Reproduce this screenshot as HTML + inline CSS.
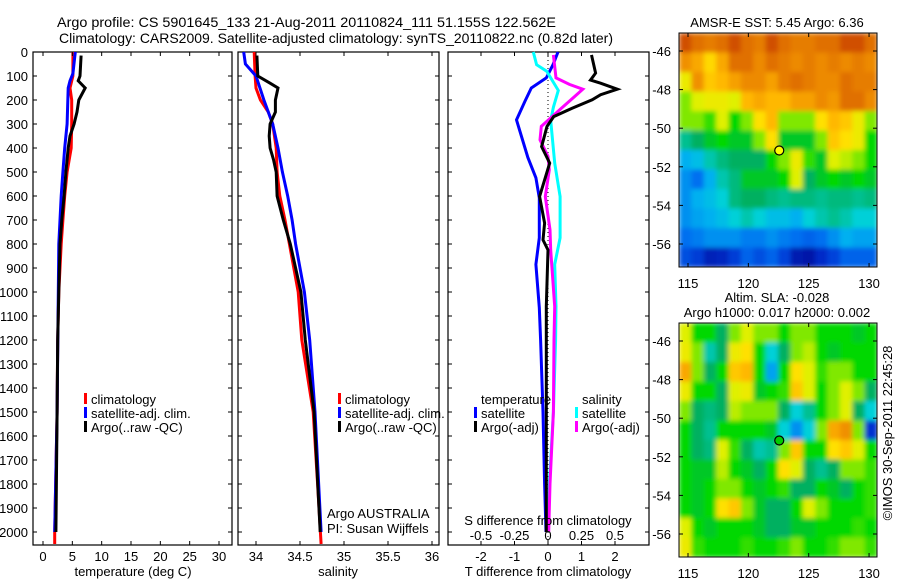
<!DOCTYPE html>
<html><head><meta charset="utf-8"><style>
body{margin:0;background:#fff;}
svg{display:block;font-family:"Liberation Sans",sans-serif;font-size:13px;}
</style></head><body>
<svg id="c" width="900" height="580" viewBox="0 0 900 580">
<defs>
<filter id="smooth" x="0" y="0" width="1" height="1"><feGaussianBlur stdDeviation="2.5" edgeMode="duplicate"/></filter>
<clipPath id="clipTop"><rect x="679" y="33" width="198" height="234"/></clipPath>
<clipPath id="clipBot"><rect x="679" y="323" width="198" height="234"/></clipPath>
</defs>
<text x="57" y="27" textLength="499" lengthAdjust="spacingAndGlyphs" style="font-size:14px">Argo profile: CS 5901645_133 21-Aug-2011 20110824_111 51.155S 122.562E</text>
<text x="59" y="43" textLength="554" lengthAdjust="spacingAndGlyphs" style="font-size:14px">Climatology: CARS2009. Satellite-adjusted climatology: synTS_20110822.nc (0.82d later)</text>
</svg>
<script>
// ---------- data ----------
const depthTicks=[0,100,200,300,400,500,600,700,800,900,1000,1100,1200,1300,1400,1500,1600,1700,1800,1900,2000];
const tempTicks=[0,5,10,15,20,25,30];
const salTicks=[34,34.5,35,35.5,36];
const salTickLabels=["34","34.5","35","35.5","36"];
const tdiffTicks=[-2,-1,0,1,2];
const sdiffTicks=[-0.5,-0.25,0,0.25,0.5];
const sdiffTickLabels=["-0.5","-0.25","0","0.25","0.5"];

const tempClimDepth=[0,100,150,200,300,400,500,600,700,800,1000,1200,1500,2000,2050];
const tempClimVal=[5.1,5.1,4.6,4.9,4.9,4.8,4.1,3.7,3.4,3.1,2.7,2.5,2.4,2.0,2.0];
const tempSatDepth=[0,90,120,150,300,400,500,600,800,1000,1500,2000];
const tempSatVal=[5.5,5.1,4.6,4.3,4.1,3.7,3.4,3.1,2.7,2.6,2.4,2.0];
const tempArgoDepth=[15,100,120,150,200,250,300,350,400,500,600,700,800,1000,1200,1500,2000];
const tempArgoVal=[6.5,6.3,6.0,7.2,6.1,5.8,5.3,4.6,4.3,3.9,3.6,3.2,2.9,2.7,2.5,2.4,2.2];

const salClimDepth=[0,100,150,200,250,300,400,500,600,700,800,1000,1200,1500,1800,2050];
const salClimVal=[33.98,33.99,34.0,34.05,34.14,34.19,34.23,34.24,34.27,34.33,34.38,34.48,34.52,34.65,34.7,34.74];
const salSatDepth=[0,50,100,200,300,400,500,600,700,800,1000,1200,1500,2000];
const salSatVal=[33.86,33.88,34.0,34.09,34.19,34.25,34.3,34.36,34.41,34.45,34.55,34.61,34.67,34.74];
const salArgoDepth=[15,100,130,150,200,250,300,350,400,450,500,600,700,800,1000,1200,1500,2000];
const salArgoVal=[34.01,34.02,34.16,34.25,34.22,34.22,34.16,34.15,34.16,34.2,34.23,34.24,34.31,34.39,34.51,34.56,34.66,34.73];

const tdSatDepth=[0,53,108,150,206,283,330,440,524,608,774,885,1065,1200,1500,1800,2000];
const tdSatVal=[0.3,0.15,-0.05,-0.5,-0.69,-0.94,-0.84,-0.6,-0.36,-0.26,-0.26,-0.36,-0.26,-0.22,-0.15,-0.1,-0.06];
const tdArgoDepth=[12,88,117,130,155,178,199,234,269,310,394,463,533,602,713,783,825,1060,1500,2000];
const tdArgoVal=[1.3,1.42,1.27,1.57,2.07,1.57,1.32,0.72,0.17,-0.03,-0.19,0.05,-0.1,-0.25,-0.1,-0.15,0,-0.05,-0.05,-0.05];
const sdSatDepth=[0,53,80,160,230,285,463,602,774,885,1060,1200,1500,1800,2000];
const sdSatVal=[-0.11,-0.085,-0.01,0.077,0.04,0.02,0.05,0.09,0.09,0.05,0.06,0.057,0.04,0.01,0.0];
const sdArgoDepth=[12,108,135,155,185,234,310,366,435,491,602,741,825,1060,1200,1500,1800,2000];
const sdArgoVal=[0.04,0.06,0.16,0.26,0.2,0.1,-0.05,-0.06,0,0.01,-0.02,0.015,0.02,0.05,0.045,0.04,0.015,0.005];

const lonTicks=[115,120,125,130];
const latTicks=[-46,-48,-50,-52,-54,-56];
const argoLon=122.56, argoLat=-51.155;
const sstGrid=[
[0.85,0.8,0.78,0.8,0.85,0.8,0.78,0.85,0.8,0.78,0.78,0.8,0.8,0.85,0.85,0.8],
[0.75,0.72,0.66,0.72,0.8,0.8,0.76,0.8,0.78,0.76,0.78,0.76,0.78,0.76,0.78,0.76],
[0.62,0.75,0.68,0.7,0.73,0.76,0.76,0.73,0.78,0.8,0.78,0.76,0.76,0.8,0.78,0.78],
[0.55,0.6,0.62,0.62,0.6,0.7,0.72,0.7,0.7,0.73,0.73,0.76,0.74,0.8,0.8,0.76],
[0.55,0.55,0.52,0.6,0.5,0.55,0.65,0.7,0.55,0.55,0.55,0.65,0.7,0.68,0.62,0.55],
[0.4,0.45,0.48,0.5,0.48,0.48,0.55,0.65,0.48,0.48,0.48,0.55,0.68,0.65,0.62,0.5],
[0.3,0.32,0.38,0.42,0.45,0.45,0.45,0.5,0.55,0.62,0.52,0.48,0.6,0.58,0.55,0.5],
[0.25,0.2,0.3,0.38,0.42,0.48,0.48,0.48,0.5,0.6,0.45,0.48,0.5,0.48,0.5,0.48],
[0.25,0.3,0.32,0.35,0.42,0.45,0.45,0.42,0.4,0.42,0.42,0.4,0.42,0.42,0.4,0.42],
[0.25,0.28,0.3,0.32,0.35,0.38,0.35,0.32,0.32,0.3,0.35,0.38,0.4,0.38,0.35,0.35],
[0.2,0.22,0.25,0.25,0.25,0.22,0.22,0.25,0.22,0.2,0.18,0.2,0.25,0.3,0.28,0.28],
[0.15,0.12,0.07,0.08,0.12,0.18,0.15,0.18,0.13,0.06,0.05,0.09,0.13,0.18,0.18,0.18]];
const slaGrid=[
[0.6,0.5,0.5,0.45,0.55,0.6,0.55,0.55,0.5,0.55,0.55,0.5,0.5,0.5,0.48,0.5],
[0.62,0.55,0.38,0.45,0.62,0.65,0.5,0.35,0.45,0.55,0.58,0.5,0.48,0.5,0.5,0.5],
[0.72,0.55,0.45,0.5,0.68,0.7,0.5,0.28,0.5,0.65,0.6,0.52,0.55,0.55,0.5,0.5],
[0.62,0.5,0.5,0.45,0.6,0.62,0.48,0.5,0.52,0.68,0.6,0.5,0.55,0.6,0.55,0.45],
[0.55,0.45,0.42,0.45,0.58,0.55,0.55,0.55,0.45,0.35,0.4,0.5,0.55,0.6,0.45,0.35],
[0.5,0.45,0.4,0.5,0.5,0.5,0.5,0.48,0.35,0.25,0.35,0.55,0.72,0.75,0.55,0.1],
[0.5,0.45,0.42,0.6,0.52,0.45,0.38,0.4,0.55,0.68,0.5,0.5,0.65,0.68,0.6,0.5],
[0.5,0.48,0.48,0.58,0.5,0.48,0.45,0.5,0.65,0.6,0.45,0.4,0.45,0.55,0.55,0.52],
[0.5,0.48,0.5,0.55,0.55,0.5,0.48,0.5,0.52,0.45,0.45,0.5,0.48,0.45,0.5,0.52],
[0.5,0.48,0.5,0.65,0.68,0.55,0.48,0.45,0.45,0.5,0.6,0.55,0.5,0.5,0.5,0.52],
[0.6,0.5,0.48,0.5,0.5,0.5,0.48,0.45,0.45,0.48,0.48,0.5,0.5,0.5,0.52,0.5],
[0.62,0.52,0.5,0.5,0.5,0.52,0.5,0.5,0.52,0.55,0.5,0.5,0.52,0.55,0.55,0.52]];

// ---------- helpers ----------
const NS="http://www.w3.org/2000/svg";
const svg=document.getElementById('c');
function mk(tag,attrs,parent){const e=document.createElementNS(NS,tag);for(const k in attrs)e.setAttribute(k,attrs[k]);(parent||svg).appendChild(e);return e;}
const TOP=52,BOT=545;
const yD=d=>TOP+d*0.24;
const panels=[
 {name:'temperature-panel',x0:33,x1:232,f:v=>43+v*5.867},
 {name:'salinity-panel',x0:238,x1:439,f:v=>256+(v-34)*88},
 {name:'difference-panel',x0:448,x1:649,f:v=>548+v*33.5}];
const xT=panels[0].f,xS=panels[1].f,xTD=panels[2].f,xSD=v=>548+v*134;

function frame(p,labelsLeft){
  const g=mk('g',{});
  
  
  mk('rect',{x:p.x0,y:TOP,width:p.x1-p.x0,height:BOT-TOP,fill:'none',stroke:'#000','stroke-width':1.2},g);
  depthTicks.forEach(d=>{
    mk('line',{x1:p.x0,x2:p.x0+4,y1:yD(d),y2:yD(d),stroke:'#000'},g);
    mk('line',{x1:p.x1,x2:p.x1-4,y1:yD(d),y2:yD(d),stroke:'#000'},g);
    if(labelsLeft){const t=mk('text',{x:28,y:yD(d)+5,'text-anchor':'end'},g);t.textContent=d;
      
      }
  });
  return g;
}
function line(g,depths,vals,fx,color,name){
  const pts=depths.map((d,i)=>fx(vals[i]).toFixed(1)+','+yD(d).toFixed(1)).join(' ');
  const e=mk('polyline',{points:pts,fill:'none',stroke:color,'stroke-width':3,'stroke-linejoin':'miter'},g);
  
  
}
function txt(x,y,s,anchor,name,parent){const t=mk('text',{x:x,y:y,'text-anchor':anchor||'start'},parent);t.textContent=s;
  
  return t;}
function xticks(p,ticks,labels,f,ly){
  ticks.forEach((v,i)=>{
    mk('line',{x1:f(v),x2:f(v),y1:BOT,y2:BOT-4,stroke:'#000'});
    mk('line',{x1:f(v),x2:f(v),y1:TOP,y2:TOP+4,stroke:'#000'});
    if(labels) txt(f(v),ly,labels[i],'middle','x-tick-label');
  });
}
function legend(x,y,color,label){
  const r=mk('rect',{x:x,y:y-6,width:3,height:11,fill:color});
  
  
  txt(x+7,y+5,label,'start','legend-entry');
}

// Panel 1
let g1=frame(panels[0],true);
line(g1,tempClimDepth,tempClimVal,xT,'#f00','temp-climatology-line');
line(g1,tempSatDepth,tempSatVal,xT,'#00f','temp-satellite-line');
line(g1,tempArgoDepth,tempArgoVal,xT,'#000','temp-argo-line');
xticks(panels[0],tempTicks,tempTicks.map(String),xT,561);
txt(133,576,'temperature (deg C)','middle','x-axis-title-temperature');
legend(84,399,'#f00','climatology');legend(84,413,'#00f','satellite-adj. clim.');legend(84,427,'#000','Argo(..raw -QC)');

// Panel 2
let g2=frame(panels[1],false);
line(g2,salClimDepth,salClimVal,xS,'#f00','sal-climatology-line');
line(g2,salSatDepth,salSatVal,xS,'#00f','sal-satellite-line');
line(g2,salArgoDepth,salArgoVal,xS,'#000','sal-argo-line');
xticks(panels[1],salTicks,salTickLabels,xS,561);
txt(338,576,'salinity','middle','x-axis-title-salinity');
legend(338,399,'#f00','climatology');legend(338,413,'#00f','satellite-adj. clim.');legend(338,427,'#000','Argo(..raw -QC)');
txt(327,518,'Argo AUSTRALIA','start','argo-country-label');
txt(327,533,'PI: Susan Wijffels','start','pi-label');

// Panel 3
let g3=frame(panels[2],false);
const zl=mk('line',{x1:xTD(0),x2:xTD(0),y1:TOP,y2:BOT,stroke:'#000','stroke-dasharray':'1,3'},g3);


line(g3,tdSatDepth,tdSatVal,xTD,'#00f','tdiff-satellite-line');
line(g3,sdSatDepth,sdSatVal,xSD,'#0ff','sdiff-satellite-line');
line(g3,sdArgoDepth,sdArgoVal,xSD,'#f0f','sdiff-argo-line');
line(g3,tdArgoDepth,tdArgoVal,xTD,'#000','tdiff-argo-line');
xticks(panels[2],tdiffTicks,tdiffTicks.map(String),xTD,561);
sdiffTicks.forEach((v,i)=>txt(xSD(v),540,sdiffTickLabels[i],'middle','s-diff-tick-label'));
txt(548,525,'S difference from climatology','middle','s-diff-axis-title');
txt(548,576,'T difference from climatology','middle','x-axis-title-tdiff');
txt(481,404,'temperature','start','legend-title-temperature');
txt(582,404,'salinity','start','legend-title-salinity');
legend(474,413,'#00f','satellite');legend(474,427,'#000','Argo(-adj)');
legend(575,413,'#0ff','satellite');legend(575,427,'#f0f','Argo(-adj)');

// ---------- maps ----------
const stops=[[0,'#000080'],[0.1,'#0030d0'],[0.2,'#0070f0'],[0.3,'#00b0f0'],[0.35,'#00d0d8'],[0.4,'#00c090'],[0.45,'#00b060'],[0.5,'#00d800'],[0.55,'#80e800'],[0.6,'#e0f000'],[0.65,'#ffe000'],[0.7,'#ffb800'],[0.75,'#f09000'],[0.8,'#e07000'],[0.85,'#d05000'],[0.9,'#b02000']];
function hx(c){return [1,3,5].map(i=>parseInt(c.substr(i,2),16));}
function cmap(v){
  if(v<=stops[0][0])return stops[0][1];
  for(let i=1;i<stops.length;i++){if(v<=stops[i][0]){const a=hx(stops[i-1][1]),b=hx(stops[i][1]),t=(v-stops[i-1][0])/(stops[i][0]-stops[i-1][0]);
    return 'rgb('+a.map((x,k)=>Math.round(x+(b[k]-x)*t)).join(',')+')';}}
  return stops[stops.length-1][1];
}
function map(y0,y1,grid,name,markerFill,titles,clip){
  const X0=679,X1=877;
  const lonX=l=>688+(l-115)*12.07;
  const latY=la=>y0+18+(-46-la)*19.3;
  const g=mk('g',{});
  
  
  const cg=mk('g',{'clip-path':'url(#'+clip+')'},g);
  const img=mk('g',{filter:'url(#smooth)'},cg);
  const rows=grid.length,cols=grid[0].length,cw=(X1-X0)/cols,ch=(y1-y0)/rows;
  grid.forEach((row,r)=>row.forEach((v,c)=>{
    mk('rect',{x:(X0+c*cw).toFixed(2),y:(y0+r*ch).toFixed(2),width:(cw+0.6).toFixed(2),height:(ch+0.6).toFixed(2),fill:cmap(v)},img);
  }));
  mk('rect',{x:X0,y:y0,width:X1-X0,height:y1-y0,fill:'none',stroke:'#000'},g);
  lonTicks.forEach(l=>{mk('line',{x1:lonX(l),x2:lonX(l),y1:y1,y2:y1-4,stroke:'#000'},g);mk('line',{x1:lonX(l),x2:lonX(l),y1:y0,y2:y0+4,stroke:'#000'},g);
    txt(lonX(l),y1+21,String(l),'middle','lon-tick-label',g);});
  latTicks.forEach(la=>{mk('line',{x1:X0,x2:X0+4,y1:latY(la),y2:latY(la),stroke:'#000'},g);mk('line',{x1:X1,x2:X1-4,y1:latY(la),y2:latY(la),stroke:'#000'},g);
    txt(671,latY(la)+5,String(la),'end','lat-tick-label',g);});
  const m=mk('circle',{cx:lonX(argoLon),cy:latY(argoLat),r:4.5,fill:markerFill,stroke:'#000','stroke-width':1.2},g);
  
  
  titles.forEach(t=>txt(777,t[1],t[0],'middle','map-title',g));
}
map(33,267,sstGrid,'sst-map','#ff0',[['AMSR-E SST: 5.45 Argo: 6.36',27]],'clipTop');
map(323,557,slaGrid,'sla-map','#0c0',[['Altim. SLA: -0.028',302],['Argo h1000: 0.017 h2000: 0.002',317]],'clipBot');
const im=txt(0,0,'©IMOS 30-Sep-2011 22:45:28','middle','imos-credit');
im.setAttribute('transform','translate(892,433) rotate(-90)');
</script>
</body></html>
